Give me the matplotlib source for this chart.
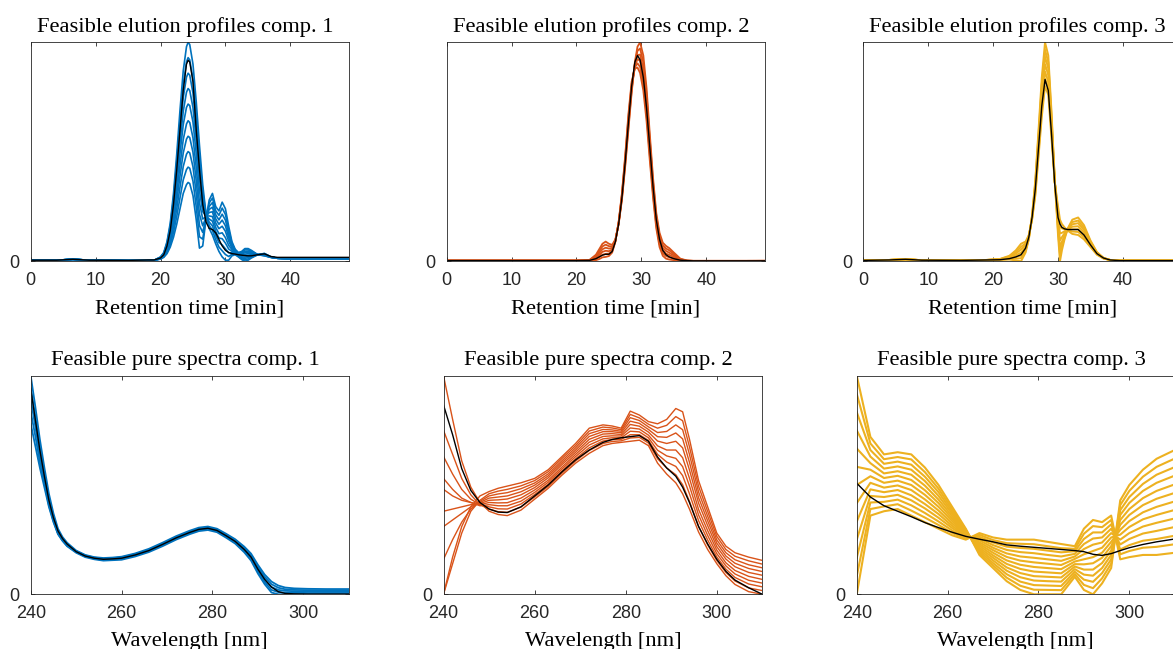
import matplotlib
matplotlib.use('Agg')
import matplotlib.pyplot as plt

plt.rcParams['font.family'] = ['Liberation Sans', 'DejaVu Sans']

BLUE = '#0072BD'
ORANGE = '#D95319'
YELLOW = '#EDB120'

# ---- elution profiles, component 1 ----
elu_time_1 = [0, 4, 6.5, 9, 15, 18, 19, 20, 20.5, 21, 21.5, 22, 22.5, 23, 23.5, 24, 24.25, 24.5,
              25, 25.5, 26, 26.5, 27, 27.5, 28, 28.5, 29, 29.5, 30, 30.5, 31, 31.5, 32, 32.5, 33,
              33.5, 34, 35, 36, 37, 38, 40, 49]
elu_head_1 = [.005, .005, .009, .005, .003]
elu_mean_1 = [.005, .005, .009, .005, .004,
              .006, .006, .015, .03, .07, .14, .26, .42, .60, .78, .90, .918, .91,
              .82, .60, .42, .26, .18, .15, .145, .13, .10, .07, .05, .04, .035, .033, .03, .028, .026,
              .025, .025, .03, .034, .022, .018, .018, .018]
elu_band_1 = [elu_head_1 + row for row in [
    [.003, .005, .02, .04, .09, .175, .31, .49, .69, .87, .98, 1.0, .99, .90, .73, .53, .35, .22, .15, .12, .08, .045, .02, .005, .005, .025, .03, .02, .008, 0, .005, .015, .03, .036, .02, .014, .012, .012],
    [.003, .004, .019, .038, .084, .163, .288, .455, .641, .808, .911, .93, .92, .834, .671, .478, .319, .217, .164, .141, .099, .065, .048, .031, .022, .032, .033, .022, .012, .006, .011, .019, .03, .035, .02, .014, .012, .012],
    [.003, .004, .018, .035, .078, .151, .266, .42, .591, .747, .841, .859, .85, .768, .611, .427, .288, .213, .179, .162, .117, .086, .075, .057, .039, .039, .036, .024, .016, .013, .017, .023, .03, .034, .02, .014, .012, .012],
    [.003, .004, .017, .033, .072, .139, .244, .384, .542, .685, .772, .789, .78, .702, .552, .375, .258, .21, .193, .183, .136, .106, .103, .083, .056, .046, .038, .027, .02, .019, .022, .027, .03, .032, .019, .014, .012, .012],
    [.003, .004, .016, .030, .066, .127, .222, .349, .492, .624, .703, .718, .711, .636, .492, .323, .227, .207, .207, .204, .155, .126, .13, .108, .073, .054, .041, .029, .024, .026, .028, .03, .03, .031, .019, .014, .012, .012],
    [.003, .004, .014, .028, .059, .113, .198, .311, .438, .556, .627, .642, .634, .564, .428, .267, .193, .203, .223, .226, .175, .149, .16, .137, .092, .061, .044, .031, .029, .032, .035, .035, .03, .03, .019, .014, .012, .012],
    [.003, .004, .013, .025, .053, .101, .176, .276, .389, .495, .558, .571, .565, .498, .368, .215, .162, .20, .237, .247, .194, .169, .188, .162, .109, .069, .047, .033, .033, .039, .04, .038, .03, .029, .019, .014, .012, .012],
    [.003, .004, .012, .023, .047, .089, .154, .24, .339, .433, .489, .501, .495, .432, .309, .163, .132, .197, .251, .268, .213, .189, .215, .188, .126, .076, .05, .036, .037, .045, .046, .042, .03, .027, .018, .014, .012, .012],
    [.003, .004, .011, .020, .041, .077, .132, .205, .29, .372, .419, .43, .425, .366, .249, .112, .101, .193, .266, .289, .231, .21, .243, .214, .143, .083, .052, .038, .041, .052, .052, .046, .03, .026, .018, .014, .012, .012],
    [.003, .004, .01, .018, .035, .065, .11, .17, .24, .31, .35, .36, .355, .30, .19, .06, .07, .19, .28, .31, .25, .23, .27, .24, .16, .09, .055, .04, .045, .058, .058, .05, .03, .025, .018, .014, .012, .012],
]]

# ---- elution profiles, component 2 ----
elu_time_2 = [0, 10, 20, 22, 23, 23.5, 24, 24.5, 25, 25.5, 26, 26.5, 27, 27.5, 28, 28.5, 29,
              29.4, 29.8, 30.3, 30.8, 31.3, 31.8, 32.3, 32.8, 33.3, 33.8, 34.3, 35, 36, 37, 38, 49]
elu_head_2 = [.003, .003, .003]
elu_mean_2 = elu_head_2 + [.004, .012, .02, .028, .032, .032, .045, .09, .17, .29, .45, .63, .80, .91,
                           .94, .92, .84, .70, .52, .34, .19, .10, .05, .03, .02, .012, .005, .003, .002, .002]
elu_band_2 = [elu_head_2 + row for row in [
    [.006, .03, .055, .08, .09, .08, .075, .10, .17, .28, .43, .60, .77, .91, .98, 1.0, .94, .79, .58, .38, .22, .13, .085, .07, .06, .04, .012, .004, .002, .002],
    [.005, .025, .046, .068, .076, .069, .068, .098, .172, .286, .44, .614, .78, .904, .961, .972, .908, .76, .556, .362, .206, .117, .073, .058, .05, .033, .01, .003, .002, .002],
    [.005, .02, .037, .055, .062, .058, .061, .096, .174, .292, .45, .628, .79, .898, .942, .944, .876, .73, .532, .344, .192, .104, .061, .047, .039, .026, .008, .003, .002, .002],
    [.004, .015, .028, .043, .048, .046, .054, .094, .176, .298, .46, .642, .80, .892, .923, .916, .844, .70, .508, .326, .178, .091, .049, .035, .029, .019, .006, .002, .001, .002],
    [.004, .01, .019, .03, .034, .035, .047, .092, .178, .304, .47, .656, .81, .886, .904, .888, .812, .67, .484, .308, .164, .078, .037, .024, .018, .012, .004, .002, .001, .002],
    [.003, .005, .01, .018, .02, .024, .04, .09, .18, .31, .48, .67, .82, .88, .885, .86, .78, .64, .46, .29, .15, .065, .025, .012, .008, .005, .002, .001, .001, .002],
]]

# ---- elution profiles, component 3 ----
elu_time_3 = [0, 4, 6.5, 9, 15, 19, 21, 22.5, 23.5, 24.3, 25, 25.5, 26, 26.5, 27, 27.5, 28, 28.5,
              29, 29.5, 30, 30.3, 30.6, 31, 31.5, 32.2, 33.1, 34, 35, 36, 37, 38, 39.5, 42, 49]
elu_head_3 = [.004, .006, .009, .005, .004, .006]
elu_tail_3 = [.006, .003, .003, .003]
elu_mean_3 = elu_head_3 + [.007, .012, .02, .03, .06, .11, .2, .33, .52, .71, .83, .78, .58, .35, .2, .17,
                           .155, .148, .145, .145, .145, .12, .075, .035, .015] + elu_tail_3
elu_band_3 = [elu_head_3 + row + elu_tail_3 for row in [
    [.006, .008, .004, 0, .04, .10, .21, .37, .60, .84, 1.0, .94, .68, .37, .12, 0, .05, .10, .15, .19, .20, .165, .095, .042, .016],
    [.007, .011, .012, .014, .049, .103, .207, .358, .58, .809, .966, .909, .66, .368, .142, .032, .07, .109, .148, .179, .186, .154, .09, .04, .015],
    [.007, .014, .019, .026, .057, .107, .203, .347, .56, .781, .934, .881, .64, .367, .163, .063, .09, .118, .147, .169, .174, .144, .085, .038, .015],
    [.008, .017, .027, .04, .065, .11, .20, .335, .54, .75, .90, .85, .62, .365, .185, .095, .11, .128, .145, .158, .16, .133, .08, .036, .015],
    [.009, .019, .035, .054, .074, .113, .197, .323, .52, .719, .866, .819, .60, .363, .207, .127, .13, .137, .143, .146, .146, .121, .075, .034, .014],
    [.009, .022, .042, .066, .082, .117, .193, .312, .50, .691, .834, .791, .58, .362, .228, .158, .15, .146, .142, .136, .134, .111, .07, .032, .013],
    [.010, .025, .05, .08, .09, .12, .19, .30, .48, .66, .80, .76, .56, .36, .25, .19, .17, .155, .14, .125, .12, .10, .065, .03, .013],
]]

# ---- pure spectra, component 1 ----
wl_1 = [240, 241, 242, 243, 244, 245, 246, 247, 248, 250, 252, 254, 256, 258, 260, 263, 266, 269,
        272, 275, 277, 279, 281, 283, 285, 287, 288.5, 290, 291.5, 293, 294.5, 296, 298, 301, 305, 310]
spec_mean_1 = [.94, .80, .66, .54, .43, .35, .29, .255, .23, .195, .175, .165, .16, .162, .165, .18, .20, .228,
               .258, .283, .297, .302, .292, .268, .242, .205, .17, .115, .068, .033, .012, .004, .002, .001, .001, .001]
spec_band_1 = [
    [1.0, .86, .71, .58, .46, .37, .30, .262, .236, .20, .18, .17, .166, .168, .172, .187, .208, .236, .266, .291, .305, .31, .30, .277, .252, .218, .186, .135, .09, .058, .04, .031, .027, .025, .024, .024],
    [.945, .815, .672, .552, .438, .355, .289, .254, .229, .198, .178, .168, .163, .165, .169, .184, .204, .232, .262, .287, .301, .306, .296, .273, .247, .212, .178, .125, .079, .046, .03, .023, .02, .019, .018, .018],
    [.89, .77, .635, .525, .415, .34, .279, .248, .224, .195, .175, .165, .16, .162, .165, .18, .20, .228, .258, .283, .297, .302, .292, .268, .242, .205, .17, .115, .068, .033, .02, .016, .014, .013, .012, .012],
    [.835, .725, .607, .508, .407, .335, .277, .246, .222, .193, .173, .163, .157, .159, .162, .177, .197, .224, .254, .279, .293, .298, .288, .264, .237, .199, .162, .105, .057, .02, .01, .008, .007, .006, .006, .006],
    [.78, .68, .58, .49, .40, .33, .275, .244, .22, .19, .17, .16, .154, .156, .158, .173, .193, .22, .25, .275, .289, .294, .284, .259, .232, .192, .154, .095, .046, .008, 0, 0, 0, 0, 0, 0],
]

# ---- pure spectra, component 2 ----
wl_2 = [240, 242, 244, 246, 248, 250, 252, 254, 257, 260, 263, 266, 269, 272, 275, 277,
        279, 281, 283, 285, 287, 289, 291, 292.5, 294, 296, 298, 300, 302, 304, 307, 310]
spec_mean_2 = [.866, .73, .575, .475, .42, .39, .376, .374, .40, .45, .50, .56, .615, .66, .695, .708,
               .716, .721, .726, .70, .628, .578, .54, .49, .42, .31, .23, .16, .105, .065, .03, 0]
spec_band_2 = [
    [0, .17, .31, .40, .45, .47, .485, .495, .51, .53, .57, .63, .69, .76, .775, .77, .76, .838, .82, .79, .78, .80, .85, .835, .71, .52, .40, .28, .22, .19, .17, .155],
    [0, .14, .28, .38, .43, .46, .472, .48, .496, .52, .561, .621, .68, .747, .765, .761, .753, .823, .807, .778, .76, .773, .813, .794, .675, .494, .379, .265, .205, .174, .153, .138],
    [.16, .25, .33, .39, .425, .45, .459, .465, .483, .509, .551, .611, .67, .735, .754, .752, .746, .808, .795, .766, .74, .745, .775, .753, .64, .468, .357, .249, .19, .158, .135, .121],
    [.31, .34, .37, .40, .42, .44, .445, .45, .469, .499, .542, .602, .66, .722, .744, .744, .739, .792, .782, .754, .721, .718, .738, .711, .604, .442, .336, .234, .175, .142, .118, .104],
    [.38, .39, .40, .41, .415, .43, .432, .436, .455, .488, .533, .593, .65, .709, .733, .735, .731, .777, .769, .742, .701, .69, .70, .67, .569, .417, .314, .218, .161, .126, .10, .087],
    [.48, .45, .43, .42, .41, .42, .418, .419, .44, .477, .522, .582, .64, .696, .722, .725, .724, .761, .756, .728, .679, .66, .66, .625, .531, .388, .291, .202, .144, .109, .082, .068],
    [.53, .48, .44, .42, .405, .41, .405, .405, .426, .466, .513, .573, .63, .683, .711, .716, .716, .746, .743, .716, .659, .633, .622, .584, .496, .363, .269, .186, .13, .093, .064, .051],
    [.63, .55, .48, .435, .41, .40, .391, .39, .413, .456, .504, .564, .62, .67, .701, .708, .709, .73, .73, .704, .64, .605, .585, .543, .46, .337, .248, .171, .115, .077, .047, .034],
    [.75, .64, .53, .455, .41, .39, .378, .375, .399, .445, .494, .554, .61, .658, .69, .699, .702, .715, .718, .692, .62, .578, .547, .501, .425, .311, .226, .155, .10, .061, .029, .017],
    [1.0, .80, .61, .49, .42, .38, .365, .36, .385, .435, .485, .545, .60, .645, .68, .69, .695, .70, .705, .68, .60, .55, .51, .46, .39, .285, .205, .14, .085, .045, .012, 0],
]

# ---- pure spectra, component 3 ----
wl_3 = [240, 243, 246, 249, 252, 255, 258, 261, 264, 267, 270, 273, 276, 279, 282, 285,
        288, 290, 292, 294, 296, 298, 300, 303, 306, 310]
spec_mean_3 = [.508, .445, .405, .38, .355, .328, .305, .284, .265, .252, .24, .226, .22, .215, .21, .205,
               .20, .195, .183, .178, .186, .20, .213, .228, .24, .253]
spec_band_3 = [
    [0, .36, .38, .39, .36, .33, .30, .27, .25, .28, .26, .25, .25, .25, .24, .23, .22, .30, .34, .33, .36, .16, .17, .18, .18, .19],
    [.083, .39, .402, .412, .383, .351, .317, .281, .254, .272, .248, .234, .231, .229, .22, .211, .208, .277, .312, .307, .34, .183, .198, .213, .217, .229],
    [.167, .42, .423, .433, .407, .372, .333, .292, .258, .263, .237, .218, .212, .208, .20, .192, .197, .253, .283, .283, .32, .205, .225, .245, .253, .268],
    [.25, .45, .445, .455, .43, .393, .35, .303, .263, .255, .225, .203, .193, .188, .18, .173, .185, .23, .255, .26, .30, .228, .253, .278, .29, .308],
    [.333, .48, .467, .477, .453, .413, .367, .313, .267, .247, .213, .187, .173, .167, .16, .153, .173, .207, .227, .237, .28, .25, .28, .31, .327, .347],
    [.417, .51, .488, .498, .477, .434, .383, .324, .271, .238, .202, .171, .154, .146, .14, .134, .162, .183, .198, .213, .26, .273, .308, .343, .363, .386],
    [.50, .54, .51, .52, .50, .455, .40, .335, .275, .23, .19, .155, .135, .125, .12, .115, .15, .16, .17, .19, .24, .295, .335, .375, .40, .425],
    [.583, .57, .532, .542, .523, .476, .417, .346, .279, .222, .178, .139, .116, .104, .10, .096, .138, .137, .142, .167, .22, .318, .363, .408, .437, .464],
    [.667, .60, .553, .563, .547, .497, .433, .357, .283, .213, .167, .123, .097, .083, .08, .077, .127, .113, .113, .143, .20, .34, .39, .44, .473, .503],
    [.75, .63, .575, .585, .57, .518, .45, .368, .288, .205, .155, .108, .078, .063, .06, .058, .115, .09, .085, .12, .18, .363, .418, .473, .51, .543],
    [.833, .66, .597, .607, .593, .538, .467, .378, .292, .197, .143, .092, .058, .042, .04, .038, .103, .067, .057, .097, .16, .385, .445, .505, .547, .582],
    [.917, .69, .618, .628, .617, .559, .483, .389, .296, .188, .132, .076, .039, .021, .02, .019, .092, .043, .028, .073, .14, .408, .473, .538, .583, .621],
    [1.0, .72, .64, .65, .64, .58, .50, .40, .30, .18, .12, .06, .02, 0, 0, 0, .08, .02, 0, .05, .12, .43, .50, .57, .62, .66],
]

time_ticks = [0, 10, 20, 30, 40]
wl_ticks = [240, 260, 280, 300]


def draw_panel(fig, rect, x, band, mean, color, title, xlabel, xlim, xticks, band_lw=1.0):
    ax = fig.add_axes(rect)
    for curve in band:
        ax.plot(x, curve, color=color, lw=band_lw)
    ax.plot(x, mean, color='k', lw=1.0)
    ax.set_xlim(xlim)
    ax.set_ylim(0, 1)
    ax.set_xticks(xticks)
    ax.set_yticks([0])
    ax.tick_params(direction='in', top=True, right=True, length=3, width=0.6,
                   colors='#262626', labelsize=13, pad=8)
    for sp in ax.spines.values():
        sp.set_color('#262626')
        sp.set_linewidth(0.6)
    ax.set_title(title, family='Liberation Serif', fontsize=16.2, x=0.485, pad=7.5)
    ax.set_xlabel(xlabel, family='Liberation Serif', fontsize=16.2, labelpad=7)
    return ax


fig = plt.figure(figsize=(11.73, 6.49), dpi=100)

top_y, top_h = 0.5974, 0.3374
bot_y, bot_h = 0.0843, 0.3368

draw_panel(fig, [0.0262, top_y, 0.2711, top_h], elu_time_1, elu_band_1, elu_mean_1, BLUE,
           'Feasible elution profiles comp. 1', 'Retention time [min]', (0, 49), time_ticks, 1.2)
draw_panel(fig, [0.3808, top_y, 0.2711, top_h], elu_time_2, elu_band_2, elu_mean_2, ORANGE,
           'Feasible elution profiles comp. 2', 'Retention time [min]', (0, 49), time_ticks, 1.3)
draw_panel(fig, [0.7360, top_y, 0.2711, top_h], elu_time_3, elu_band_3, elu_mean_3, YELLOW,
           'Feasible elution profiles comp. 3', 'Retention time [min]', (0, 49), time_ticks, 1.4)

draw_panel(fig, [0.0262, bot_y, 0.2711, bot_h], wl_1, spec_band_1, spec_mean_1, BLUE,
           'Feasible pure spectra comp. 1', 'Wavelength [nm]', (240, 310), wl_ticks, 1.3)
draw_panel(fig, [0.3781, bot_y, 0.2718, bot_h], wl_2, spec_band_2, spec_mean_2, ORANGE,
           'Feasible pure spectra comp. 2', 'Wavelength [nm]', (240, 310), wl_ticks, 1.0)
draw_panel(fig, [0.7304, bot_y, 0.2711, bot_h], wl_3, spec_band_3, spec_mean_3, YELLOW,
           'Feasible pure spectra comp. 3', 'Wavelength [nm]', (240, 310), wl_ticks, 1.5)

fig.savefig('out.png', dpi=100)
